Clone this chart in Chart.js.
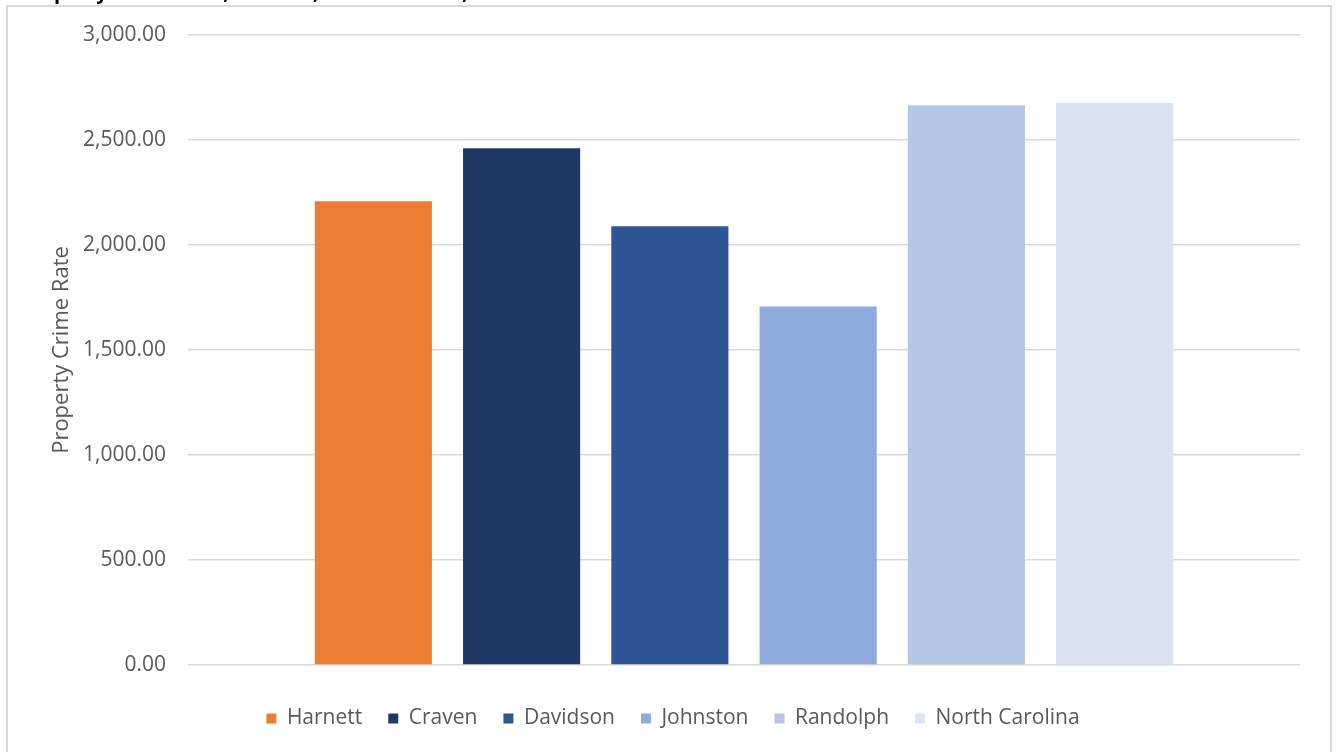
<!DOCTYPE html>
<html>
<head>
<meta charset="utf-8">
<script src="https://cdn.jsdelivr.net/npm/chart.js@4"></script>
<style>
  html, body { margin: 0; padding: 0; background: #fff; overflow: hidden; }
  #wrap { position: absolute; left: 0; top: 0; width: 1336px; height: 752px; }
  #frame { position: absolute; left: 6px; top: 5px; width: 1322px; height: 800px;
           border: 2px solid #d9d9d9; pointer-events: none; }
  #title { position: absolute; left: 20px; top: -20px; font: bold 20px 'Open Sans', sans-serif;
           line-height: 24px; color: #000; white-space: nowrap; }
</style>
</head>
<body>
<div id="wrap">
  <canvas id="myChart"></canvas>
</div>
<div id="frame"></div>
<div id="title">Property Crime Rate, Harnett, Peer Counties, and North Carolina</div>
<script>
// Data
const categories = [''];
const seriesNames = ['Harnett', 'Craven', 'Davidson', 'Johnston', 'Randolph', 'North Carolina'];
const seriesValues = [2208, 2461, 2089, 1707, 2666, 2676];
const seriesColors = ['#ED7D31', '#203864', '#2F5597', '#8FAADC', '#B4C7E7', '#DAE3F3'];
const yTicks = [0, 500, 1000, 1500, 2000, 2500, 3000];

const datasets = seriesNames.map((name, i) => ({
    label: name,
    data: [seriesValues[i]],
    backgroundColor: seriesColors[i],
    borderWidth: 0,
    categoryPercentage: 0.8,
    barPercentage: 0.79
}));

const fontFamily = "'Open Sans', sans-serif";
const textColor = '#595959';

const config = {
    type: 'bar',
    data: { labels: categories, datasets: datasets },
    options: {
        responsive: true,
        maintainAspectRatio: false,
        animation: false,
        layout: { padding: { left: 46, right: 36, top: 35, bottom: 13 } },
        scales: {
            x: {
                grid: { display: false },
                border: { display: false },
                ticks: { display: false },
                afterFit: (axis) => { axis.height = 17; }
            },
            y: {
                min: 0,
                max: 3000,
                afterBuildTicks: (axis) => { axis.ticks = yTicks.map(v => ({ value: v })); },
                grid: { color: '#d9d9d9', lineWidth: 1.5, drawTicks: false },
                border: { display: false },
                ticks: {
                    padding: 22,
                    color: textColor,
                    font: { family: fontFamily, size: 21 },
                    callback: (v) => Number(v).toLocaleString('en-US', { minimumFractionDigits: 2, maximumFractionDigits: 2 })
                },
                title: {
                    display: true,
                    text: 'Property Crime Rate',
                    color: textColor,
                    font: { family: fontFamily, size: 22 },
                    padding: { top: 3, bottom: 0 }
                },
                afterFit: (axis) => { axis.width = 142; }
            }
        },
        plugins: {
            legend: {
                display: true,
                position: 'bottom',
                labels: {
                    boxWidth: 10,
                    boxHeight: 10,
                    padding: 26,
                    color: textColor,
                    font: { family: fontFamily, size: 21 }
                }
            },
            tooltip: { enabled: false },
            title: { display: false }
        }
    }
};

window.myChart = new Chart(document.getElementById('myChart'), config);
</script>
</body>
</html>
